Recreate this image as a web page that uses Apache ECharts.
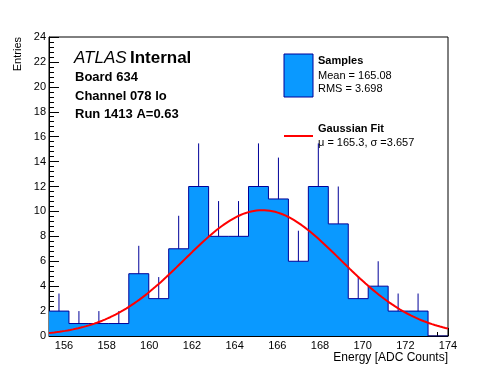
<!DOCTYPE html>
<html><head><meta charset="utf-8">
<script src="https://cdn.jsdelivr.net/npm/echarts@6/dist/echarts.min.js"></script>
<style>html,body{margin:0;padding:0;background:#fff}#c{width:498px;height:374px}</style>
</head><body><div id="c"></div><script>
// ---- data ----
const binLow = 155.3;
const binHigh = 174;
const counts = [2, 1, 1, 1, 5, 3, 7, 12, 8, 8, 12, 11, 6, 12, 9, 3, 4, 2, 2, 0];
const errors = [1.41, 1, 1, 1, 2.24, 1.73, 2.65, 3.46, 2.83, 2.83, 3.46, 3.32, 2.45, 3.46, 3, 1.73, 2, 1.41, 1.41, 0];
const xTickLabels = [156, 158, 160, 162, 164, 166, 168, 170, 172, 174];
const yTickLabels = [0, 2, 4, 6, 8, 10, 12, 14, 16, 18, 20, 22, 24];
const fitMu = 165.3;
const fitSigma = 3.657;
const fitAmp = 10.1;
const infoLines = ['Board 634', 'Channel 078 lo', 'Run 1413 A=0.63'];
const legendSamples = ['Samples', 'Mean = 165.08', 'RMS = 3.698'];
const legendFit = ['Gaussian Fit', 'μ = 165.3, σ =3.657'];

// ---- build ----
const FONT = '"Liberation Sans", Arial, Helvetica, sans-serif';
const FILL = '#0a99ff';
const EDGE = '#000099';
const nb = counts.length;
const bw = (binHigh - binLow) / nb;
const stepData = counts.map((c, i) => [binLow + i * bw, c]);
stepData.push([binHigh, counts[nb - 1]]);
const errData = counts.map((c, i) => [binLow + (i + 0.5) * bw, c, errors[i]]);
const fitData = [];
const nFit = 300;
for (let k = 0; k <= nFit; k++) {
  const x = binLow + (binHigh - binLow) * k / nFit;
  fitData.push([x, fitAmp * Math.exp(-0.5 * Math.pow((x - fitMu) / fitSigma, 2))]);
}

const chart = echarts.init(document.getElementById('c'), null, {renderer: 'canvas'});
const txt = (x, y, text, opt, extra) => Object.assign({type: 'text', x, y, style: Object.assign({text, fill: '#000', font: '11px ' + FONT, textAlign: 'left', textVerticalAlign: 'middle'}, opt || {})}, extra || {});

chart.setOption({
  animation: false,
  backgroundColor: '#fff',
  grid: {left: 49, right: 50, top: 37, bottom: 38, show: true, borderColor: '#000', borderWidth: 1, backgroundColor: 'transparent'},
  xAxis: [{
    type: 'value', min: binLow, max: binHigh, splitNumber: 9, minInterval: 2, maxInterval: 2, position: 'bottom',
    axisLine: {show: true, lineStyle: {color: '#000', width: 1}},
    axisTick: {show: true, inside: true, length: 8, lineStyle: {color: '#000'}},
    axisLabel: {show: true, margin: 4, color: '#000', fontSize: 11, fontFamily: FONT,
      formatter: v => { const r = Math.round(v); return (Math.abs(v - r) < 1e-6 && xTickLabels.indexOf(r) >= 0) ? String(r) : ''; }},
    splitLine: {show: false}
  }, {
    type: 'value', min: binLow, max: binHigh, splitNumber: 37, minInterval: 0.5, maxInterval: 0.5, position: 'bottom',
    axisLine: {show: false},
    axisTick: {show: true, inside: true, length: 4, lineStyle: {color: '#000'}},
    axisLabel: {show: false},
    splitLine: {show: false}
  }],
  yAxis: {
    type: 'value', min: 0, max: 24, interval: 2,
    axisLine: {show: true, lineStyle: {color: '#000', width: 1}},
    axisTick: {show: true, inside: true, length: 10, lineStyle: {color: '#000'}},
    minorTick: {show: true, splitNumber: 5, length: 5, lineStyle: {color: '#000'}},
    axisLabel: {margin: 3, color: '#000', fontSize: 11, fontFamily: FONT,
      formatter: v => yTickLabels.indexOf(v) >= 0 ? String(v) : ''},
    splitLine: {show: false}
  },
  series: [{
    type: 'line', step: 'end', data: stepData, symbol: 'none', z: 2,
    lineStyle: {color: EDGE, width: 1}, areaStyle: {color: FILL, opacity: 1}
  }, {
    type: 'custom', data: errData, z: 3,
    renderItem: (params, api) => {
      const e = api.value(2);
      if (!(e > 0)) return null;
      const p0 = api.coord([api.value(0), api.value(1)]);
      const p1 = api.coord([api.value(0), api.value(1) + e]);
      return {type: 'line', shape: {x1: p0[0], y1: p0[1], x2: p1[0], y2: p1[1]}, style: {stroke: EDGE, lineWidth: 1}};
    }
  }, {
    type: 'line', data: fitData, symbol: 'none', z: 4, smooth: false,
    lineStyle: {color: '#ff0000', width: 2}
  }],
  graphic: [
    txt(18, 37, 'Entries', {textAlign: 'right', font: '11px ' + FONT}, {rotation: Math.PI / 2}),
    txt(448, 358, 'Energy [ADC Counts]', {textAlign: 'right', font: '12px ' + FONT}),
    {type: 'text', x: 74, y: 58, style: {rich: {a: {font: 'italic 17px ' + FONT, fill: '#000'}, b: {font: 'bold 17px ' + FONT, fill: '#000'}}, text: '{a|ATLAS} {b|Internal}', textVerticalAlign: 'middle'}},
    txt(75, 77, infoLines[0], {font: 'bold 13px ' + FONT}),
    txt(75, 96, infoLines[1], {font: 'bold 13px ' + FONT}),
    txt(75, 114, infoLines[2], {font: 'bold 13px ' + FONT}),
    {type: 'rect', shape: {x: 284, y: 54, width: 29, height: 43}, style: {fill: FILL, stroke: EDGE, lineWidth: 1}},
    txt(318, 61, legendSamples[0], {font: 'bold 11px ' + FONT}),
    txt(318, 76, legendSamples[1]),
    txt(318, 89, legendSamples[2]),
    {type: 'line', shape: {x1: 284, y1: 136, x2: 313, y2: 136}, style: {stroke: '#ff0000', lineWidth: 2}},
    txt(318, 129, legendFit[0], {font: 'bold 11px ' + FONT}),
    txt(318, 143, legendFit[1])
  ]
});
</script></body></html>
